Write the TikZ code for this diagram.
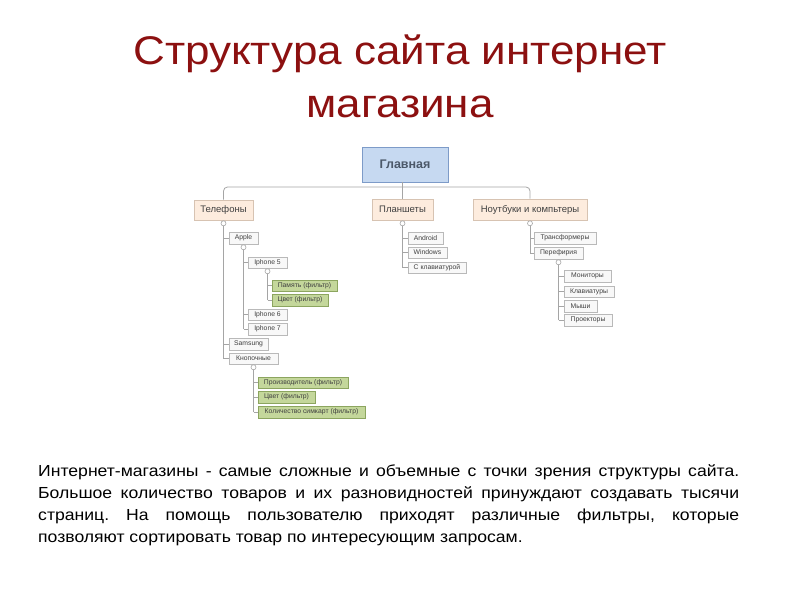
\documentclass[tikz,border=0pt]{standalone}
\usepackage{fontspec}
\setmainfont{Liberation Sans}
\newfontfamily\widefont[FakeStretch=1.1]{Liberation Sans}
\usetikzlibrary{shadows}
\definecolor{titlered}{RGB}{140,16,16}
\definecolor{linegray}{RGB}{165,165,165}
\definecolor{glavfill}{RGB}{198,217,241}
\definecolor{glavdraw}{RGB}{125,155,200}
\definecolor{glavtext}{RGB}{75,88,105}
\definecolor{onefill}{RGB}{253,236,222}
\definecolor{onedraw}{RGB}{215,195,178}
\definecolor{smallfill}{RGB}{248,248,248}
\definecolor{smalldraw}{RGB}{185,185,185}
\definecolor{greenfill}{RGB}{196,215,155}
\definecolor{greendraw}{RGB}{140,165,95}
\definecolor{boxtext}{RGB}{64,64,64}
\tikzset{
  basebox/.style={rectangle, inner sep=0pt, align=center,
    drop shadow={shadow xshift=0.8pt, shadow yshift=-0.8pt, opacity=0.25, fill=black}},
  glavbox/.style={basebox, fill=glavfill, draw=glavdraw, line width=0.7pt,
    text=glavtext, font=\fontsize{12.5}{14}\selectfont\bfseries},
  onebox/.style={basebox, fill=onefill, draw=onedraw, line width=0.6pt,
    text=boxtext, font=\fontsize{9.5}{11}\selectfont},
  smallbox/.style={basebox, fill=smallfill, draw=smalldraw, line width=0.5pt,
    text=boxtext, font=\fontsize{6.8}{8}\selectfont},
  greenbox/.style={basebox, fill=greenfill, draw=greendraw, line width=0.5pt,
    text=boxtext, font=\fontsize{6.8}{8}\selectfont},
  conn/.style={draw=linegray, line width=0.8pt},
  knob/.style={circle, draw=linegray, fill=white, line width=0.6pt,
    minimum size=5pt, inner sep=0pt},
  titletext/.style={text=titlered, font=\widefont\fontsize{40}{48}\selectfont, inner sep=0pt, anchor=base},
  paratext/.style={text=black, font=\widefont\fontsize{16}{22}\selectfont, inner sep=0pt,
    text width=701pt, align=justify, anchor=north west}
}
\newcommand\bx[7]{\node[#1, minimum width={#4-#3}, minimum height={#6-#5}] (#2) at ({(#3+#4)/2},{(#5+#6)/2}) {#7};}
\newcommand\kids[3]{%
  \coordinate (#1-k) at ([yshift=-3pt]#1.south);
  \draw[conn] (#1-k) -- (#1-k |- #2.west);
  \foreach \c in {#3} {\draw[conn] (#1-k |- \c.west) -- (\c.west);}
  \node[knob] (#1-knob) at (#1-k) {};
}
\begin{document}
\begin{tikzpicture}[x=1pt,y=-1pt]
\useasboundingbox[fill=white] (0,0) rectangle (800,600);

% title
\node[titletext] (t1) at (400,64) {Структура сайта интернет};
\node[titletext] (t2) at (400,117) {магазина};

% boxes
\bx{glavbox}{glav}{362}{448}{147}{182}{Главная}
\bx{onebox}{tel}{194}{253}{200}{220}{Телефоны}
\bx{onebox}{plan}{372}{433}{199}{220}{Планшеты}
\bx{onebox}{note}{473}{587}{199}{220}{Ноутбуки и компьтеры}

\bx{smallbox}{apple}{229}{258}{232}{244}{Apple}
\bx{smallbox}{ipf}{248}{287}{257}{268}{Iphone 5}
\bx{greenbox}{mem}{272}{337}{280}{291}{Память (фильтр)}
\bx{greenbox}{col}{272}{328}{294}{306}{Цвет (фильтр)}
\bx{smallbox}{ips}{248}{287}{309}{320}{Iphone 6}
\bx{smallbox}{ipz}{248}{287}{323}{335}{Iphone 7}
\bx{smallbox}{sams}{229}{268}{338}{350}{Samsung}
\bx{smallbox}{knop}{229}{278}{353}{364}{Кнопочные}
\bx{greenbox}{proizv}{258}{348}{377}{388}{Производитель (фильтр)}
\bx{greenbox}{colb}{258}{315}{391}{403}{Цвет (фильтр)}
\bx{greenbox}{kol}{258}{365}{406}{418}{Количество симкарт (фильтр)}

\bx{smallbox}{andr}{408}{443}{232}{244}{Android}
\bx{smallbox}{win}{408}{447}{247}{258}{Windows}
\bx{smallbox}{sklav}{408}{466}{262}{273}{С клавиатурой}

\bx{smallbox}{trans}{534}{596}{232}{244}{Трансформеры}
\bx{smallbox}{peref}{534}{583}{247}{259}{Перефирия}
\bx{smallbox}{mon}{564}{611}{270}{282}{Мониторы}
\bx{smallbox}{klav}{564}{614}{286}{297}{Клавиатуры}
\bx{smallbox}{mysh}{564}{597}{300}{312}{Мыши}
\bx{smallbox}{proj}{564}{612}{314}{326}{Проекторы}

% top connectors
\coordinate (bus) at (plan.north |- 0,187);
\draw[conn, rounded corners=4pt] (tel.north) |- (bus) -| (note.north);
\draw[conn] (glav.south -| bus) -- (plan.north);

% child connectors
\kids{tel}{knop}{apple,sams,knop}
\kids{apple}{ipz}{ipf,ips,ipz}
\kids{ipf}{col}{mem,col}
\kids{knop}{kol}{proizv,colb,kol}
\kids{plan}{sklav}{andr,win,sklav}
\kids{note}{peref}{trans,peref}
\kids{peref}{proj}{mon,klav,mysh,proj}

% paragraph
\node[paratext] (para) at (38,464) {\frenchspacing\hyphenpenalty=10000\exhyphenpenalty=10000
Интернет-магазины - самые сложные и объемные с точки зрения структуры сайта.\linebreak
Большое количество товаров и их разновидностей принуждают создавать тысячи\linebreak
страниц. На помощь пользователю приходят различные фильтры, которые\linebreak
позволяют сортировать товар по интересующим запросам.};
\end{tikzpicture}
\end{document}
